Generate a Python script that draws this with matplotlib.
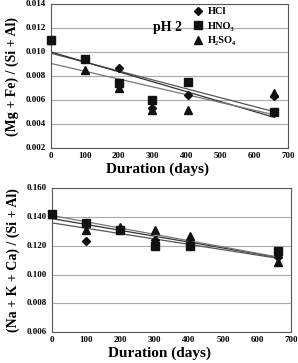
import matplotlib
matplotlib.use("Agg")
import matplotlib.pyplot as plt
import matplotlib.transforms as mtransforms
import numpy as np

plt.rcParams['font.family'] = ['Liberation Serif', 'DejaVu Serif']
plt.rcParams['font.weight'] = 'bold'

days = [0, 100, 200, 300, 405, 660]
series = ["HCl", "HNO\u2083", "H\u2082SO\u2084"]

mgfe_hcl = [0.0110, 0.0094, 0.0087, 0.0053, 0.0064, 0.0063]
mgfe_hno3 = [0.0110, 0.0094, 0.0074, 0.0060, 0.0075, 0.0050]
mgfe_h2so4 = [0.0110, 0.0085, 0.0070, 0.0052, 0.0052, 0.0066]

nakca_hcl = [0.142, 0.123, 0.131, 0.124, 0.121, 0.112]
nakca_hno3 = [0.142, 0.136, 0.131, 0.120, 0.120, 0.116]
nakca_h2so4 = [0.142, 0.131, 0.133, 0.131, 0.127, 0.109]

top_ticks = [0.002, 0.004, 0.006, 0.008, 0.010, 0.012, 0.014]
top_labels = ["0.002", "0.004", "0.006", "0.008", "0.010", "0.012", "0.014"]
bot_ticks = [0.06, 0.08, 0.10, 0.12, 0.14, 0.16]
bot_labels = ["0.006", "0.008", "0.100", "0.120", "0.140", "0.160"]
x_ticks = [0, 100, 200, 300, 400, 500, 600, 700]

markers = ['D', 's', '^']
msizes = [4.5, 6, 6]
line_colors = ['#555555', '#333333', '#777777']

fig = plt.figure(figsize=(2.98, 3.63), dpi=100)
ax1 = fig.add_axes([0.171, 0.592, 0.795, 0.397])
ax2 = fig.add_axes([0.174, 0.085, 0.804, 0.397])

def draw(ax, data, yticks, ylabels, ylabel):
    xs = np.array(days, dtype=float)
    for i, ys in enumerate(data):
        ax.plot(days, ys, linestyle='none', marker=markers[i], ms=msizes[i],
                color='#111111', label=series[i], zorder=3, clip_on=False)
    for i, ys in enumerate(data):
        k, b = np.polyfit(xs, ys, 1)
        xl = np.array([0, 660])
        ax.plot(xl, k * xl + b, color=line_colors[i], lw=0.9, zorder=2)
    ax.set_xlim(0, 700)
    ax.set_ylim(yticks[0], yticks[-1])
    ax.set_yticks(yticks)
    ax.set_yticklabels([])
    trans = mtransforms.blended_transform_factory(ax.transAxes, ax.transData)
    for v, lab in zip(yticks, ylabels):
        ax.text(-0.02, v, lab, transform=trans, ha='right', va='center',
                fontsize=6.5, fontweight='bold')
    ax.set_xticks(x_ticks)
    ax.set_xticklabels([str(t) for t in x_ticks], fontsize=6.5, fontweight='bold')
    ax.tick_params(length=0, pad=3)
    ax.yaxis.grid(True, color='#aaaaaa', lw=0.8)
    ax.set_axisbelow(True)
    for s in ax.spines.values():
        s.set_color('#555555')
        s.set_linewidth(0.8)
    ax.set_xlabel("Duration (days)", fontsize=11, fontweight='bold', labelpad=0)
    ax.xaxis.set_label_coords(0.45, -0.1)
    ax.set_ylabel(ylabel, fontsize=10, fontweight='bold')
    ax.yaxis.set_label_coords(-0.135, 0.5)

draw(ax1, [mgfe_hcl, mgfe_hno3, mgfe_h2so4], top_ticks, top_labels,
     "(Mg + Fe) / (Si + Al)")
draw(ax2, [nakca_hcl, nakca_hno3, nakca_h2so4], bot_ticks, bot_labels,
     "(Na + K + Ca) / (Si + Al)")

ax1.text(0.43, 0.84, "pH 2", transform=ax1.transAxes, fontsize=10,
         fontweight='bold', ha='left', va='center')
leg = ax1.legend(loc='upper left', bbox_to_anchor=(0.565, 1.03), frameon=False,
                 fontsize=7.5, handletextpad=0.3, labelspacing=0.5,
                 handlelength=1.2, borderpad=0.2)
for t in leg.get_texts():
    t.set_fontweight('bold')

fig.savefig("out.png", dpi=100)
